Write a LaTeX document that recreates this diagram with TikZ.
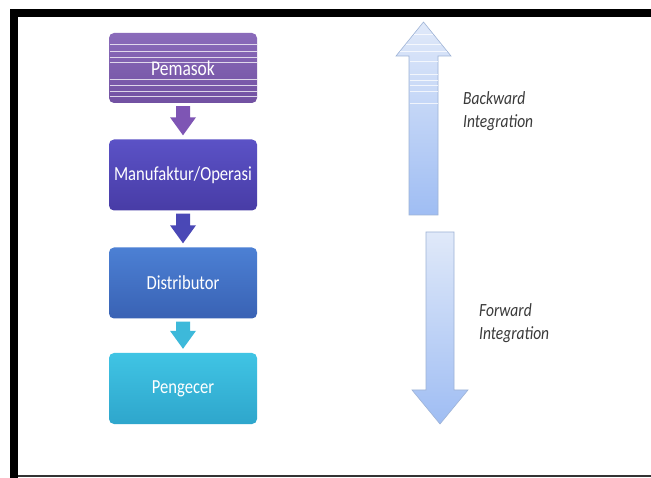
\documentclass[tikz,border=0pt]{standalone}
\usepackage{fontspec}
\setmainfont{Carlito}
\usetikzlibrary{calc}
\definecolor{pemA}{HTML}{8A6BBA}
\definecolor{pemB}{HTML}{7251A2}
\definecolor{manA}{HTML}{5B52C6}
\definecolor{manB}{HTML}{483CA6}
\definecolor{disA}{HTML}{4C80D4}
\definecolor{disB}{HTML}{3962B4}
\definecolor{pngA}{HTML}{40C4E4}
\definecolor{pngB}{HTML}{2EA6CC}
\definecolor{arrP}{HTML}{7E55B4}
\definecolor{arrM}{HTML}{4A48B6}
\definecolor{arrC}{HTML}{3DB9DA}
\definecolor{bigA}{HTML}{E0E9F9}
\definecolor{bigB}{HTML}{9FBDF3}
\definecolor{bigE}{HTML}{9EB3D6}
\definecolor{labtxt}{HTML}{3A3A3A}
\newcommand{\tallt}[1]{\scalebox{1}[1.2]{#1}}
\tikzset{
  stagebox/.style={rounded corners=5pt, minimum width=148pt, minimum height=71pt,
    inner sep=0pt, text=white, font=\fontsize{16.6}{18}\selectfont},
  blockarrow/.style={fill=#1, draw=none},
  bigarrow/.style={top color=bigA, bottom color=bigB, draw=bigE, line width=0.6pt},
  sidelabel/.style={anchor=west, align=left, text=labtxt, inner sep=0pt,
    font=\fontsize{15.5}{23}\selectfont\itshape},
  stripe/.style={white, opacity=0.75, line width=0.9pt}
}
\begin{document}
\begin{tikzpicture}[x=1pt, y=-1pt]
\useasboundingbox (0,0) rectangle (651,478);
\fill[white] (0,0) rectangle (651,478);
% frame
\fill[black] (10,9) rectangle (651,17.5);
\fill[black] (10,9) rectangle (18,478);
\fill[black!80] (18,474.5) rectangle (651,477);

% stage boxes
\node[stagebox, top color=pemA, bottom color=pemB, minimum height=70pt] (p) at (183,68) {};
\foreach \yy in {44,51,57,62,79,85,91,96}
  \draw[stripe] (109.5,\yy) -- (256.5,\yy);
\node[text=white, font=\fontsize{17.5}{20}\selectfont] at (p) {\tallt{Pemasok}};
\node[stagebox, top color=manA, bottom color=manB] (m) at (183,175) {\tallt{Manufaktur/Operasi}};
\node[stagebox, top color=disA, bottom color=disB] (d) at (183,283) {\tallt{Distributor}};
\node[stagebox, top color=pngA, bottom color=pngB] (r) at (183,388.5) {\tallt{Pengecer}};

% block arrows between stages
\foreach \a/\b/\c in {p/m/arrP, m/d/arrM, d/r/arrC}{
  \path[blockarrow=\c] let \p1=(\a.south), \p2=(\b.north) in
    (\x1-7pt,\y1-3pt) -- (\x1+7pt,\y1-3pt) -- (\x1+7pt,\y2+22pt) -- (\x1+13pt,\y2+22pt)
    -- (\x2,\y2+4pt) -- (\x1-13pt,\y2+22pt) -- (\x1-7pt,\y2+22pt) -- cycle;
}

% big up arrow
\path[bigarrow] (409,215) -- (438,215) -- (438,56) -- (451,56) -- (423.5,22)
  -- (396,56) -- (409,56) -- cycle;
\foreach \yy in {34,44,51}
  \draw[stripe] ({423.5-(\yy-22)*0.8},\yy) -- ({423.5+(\yy-22)*0.8},\yy);
\foreach \yy in {61,74,80,85,91,103}
  \draw[stripe] (409.5,\yy) -- (437.5,\yy);

% big down arrow
\path[bigarrow] (426,232) -- (454,232) -- (454,390) -- (468,390) -- (440,424)
  -- (412,390) -- (426,390) -- cycle;

% labels
\node[sidelabel] (bw) at (463,111.5) {\tallt{Backward}\\\tallt{Integration}};
\node[sidelabel] (fw) at (479,323) {\tallt{Forward}\\\tallt{Integration}};
\end{tikzpicture}
\end{document}
